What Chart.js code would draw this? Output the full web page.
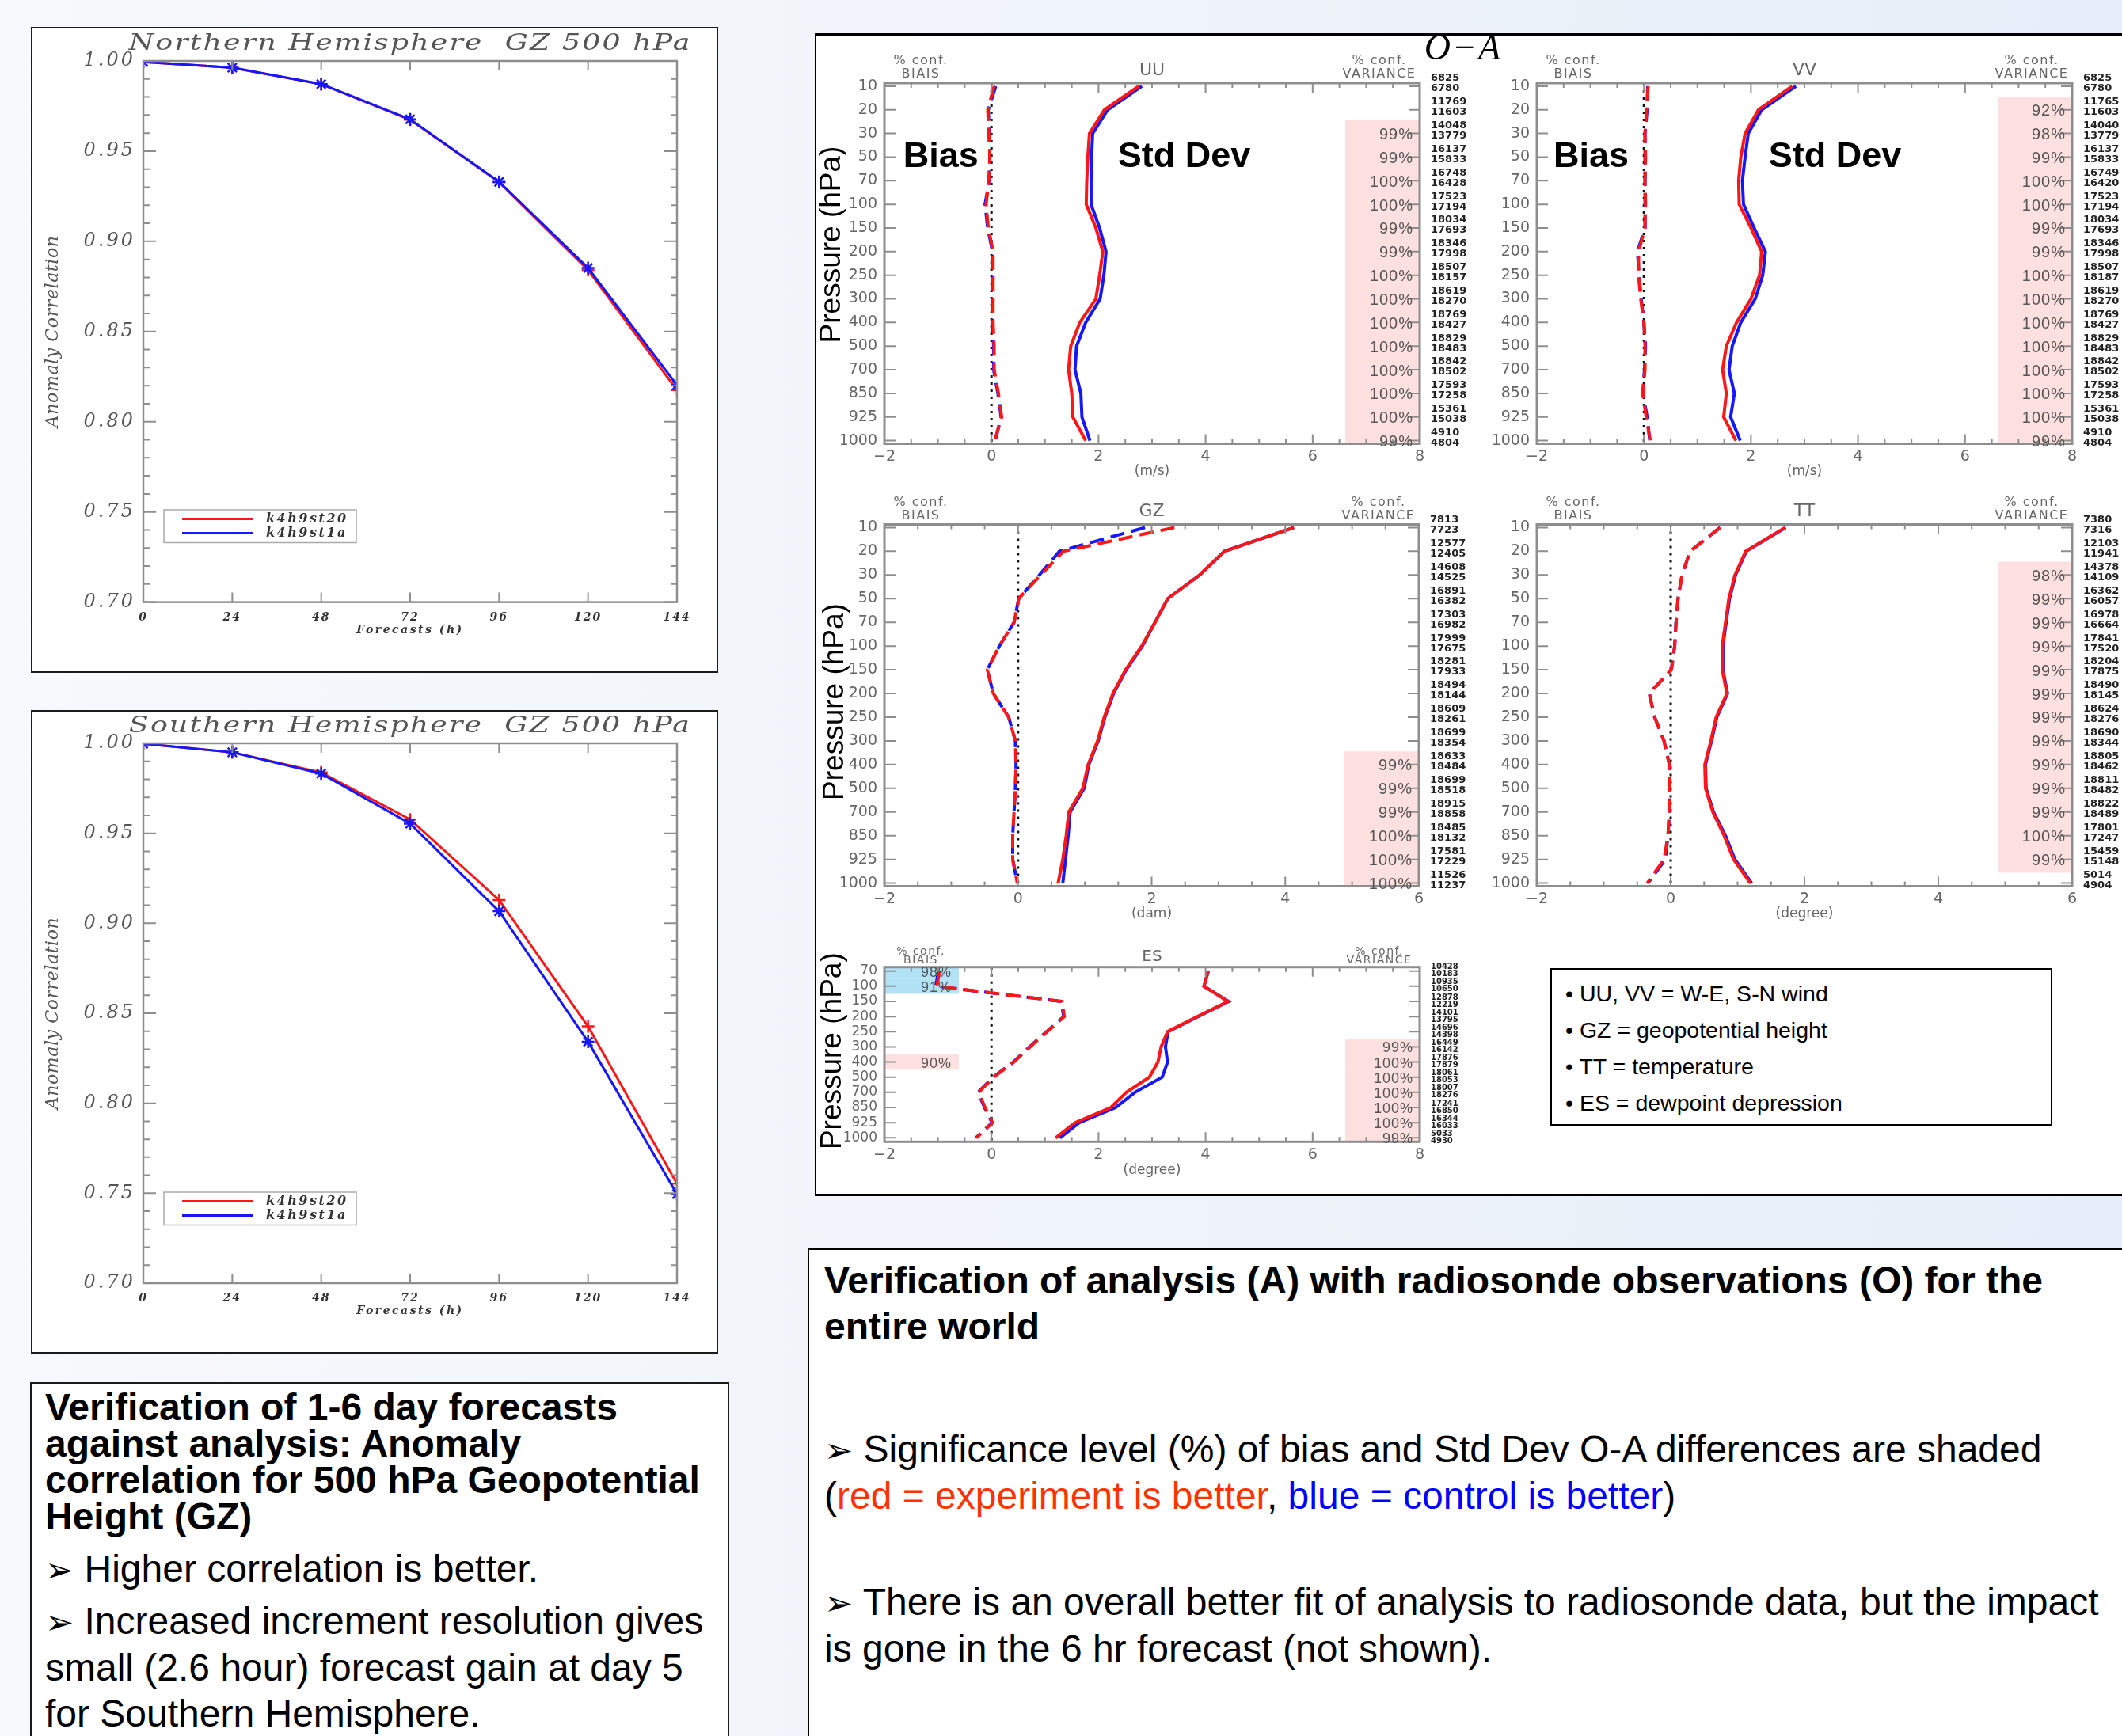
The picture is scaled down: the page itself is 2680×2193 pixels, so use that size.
<!DOCTYPE html>
<html>
<head>
<meta charset="utf-8">
<title>GZ anomaly correlation and O-A verification</title>
<script src="https://cdn.jsdelivr.net/npm/chart.js@4.4.0/dist/chart.umd.min.js"></script>
<style>
  html, body { margin: 0; padding: 0; }
  body { position: relative; width: 2680px; height: 2193px; overflow: hidden;
         background: linear-gradient(90deg, #f7f9fc 0%, #eef3fa 60%, #e7eef9 100%);
         font-family: "Liberation Sans", Arial, sans-serif; color: #000; }
  .box { position: absolute; box-sizing: border-box; background: #fff; }
  canvas { position: absolute; }
  .note { white-space: nowrap; font-size: 48px; }
  .note .hd { font-weight: bold; }
  .arrow { font-family: "DejaVu Sans", sans-serif; font-size: 0.9em; }
</style>
</head>
<body>
<div class="box" style="left:39px;top:34px;width:868px;height:816px;border:2px solid #1b1b1b"></div>
<div class="box" style="left:39px;top:897px;width:868px;height:813px;border:2px solid #1b1b1b"></div>
<div class="box" style="left:1029px;top:42px;width:1700px;height:1469px;border-top:3px solid #000;border-left:2px solid #000;border-bottom:3px solid #000"></div>

<canvas id="nh"></canvas>
<canvas id="sh"></canvas>
<canvas id="uu"></canvas>
<canvas id="vv"></canvas>
<canvas id="gz"></canvas>
<canvas id="tt"></canvas>
<canvas id="es"></canvas>

<div style="position:absolute;left:1748px;top:37px;width:200px;text-align:center;font:italic 46px/46px 'Liberation Serif',serif;letter-spacing:2px">O&minus;A</div>

<div class="box" style="left:1958px;top:1223px;width:634px;height:199px;border:2px solid #000;padding:7px 0 0 17px;font-size:28.5px;line-height:46px;white-space:nowrap">
&bull; UU, VV = W-E, S-N wind<br>&bull; GZ = geopotential height<br>&bull; TT = temperature<br>&bull; ES = dewpoint depression
</div>

<div class="box note" style="left:38px;top:1746px;width:883px;height:520px;border:2px solid #1b1b1b;padding:7px 0 0 17px">
  <div class="hd" style="line-height:46px">Verification of 1-6 day forecasts<br>against analysis: Anomaly<br>correlation for 500 hPa Geopotential<br>Height (GZ)</div>
  <div style="line-height:58px;margin-top:14px"><span class="arrow">&#x27A2;</span> Higher correlation is better.</div>
  <div style="line-height:58px;margin-top:7px"><span class="arrow">&#x27A2;</span> Increased increment resolution gives<br>small (2.6 hour) forecast gain at day 5<br>for Southern Hemisphere.</div>
</div>

<div class="box note" style="left:1020px;top:1576px;width:1700px;height:700px;border-top:3px solid #000;border-left:2px solid #000;padding:10px 0 0 19px">
  <div class="hd" style="line-height:58px">Verification of analysis (A) with radiosonde observations (O) for the<br>entire world</div>
  <div style="line-height:58px;margin-top:97px"><span class="arrow">&#x27A2;</span> Significance level (%) of bias and Std Dev O-A differences are shaded<br>(<span style="color:#ff3300">red = experiment is better</span>, <span style="color:#0000ff">blue = control is better</span>)</div>
  <div style="line-height:58px;margin-top:76px"><span class="arrow">&#x27A2;</span> There is an overall better fit of analysis to radiosonde data, but the impact<br>is gone in the 6 hr forecast (not shown).</div>
</div>

<script>
// ---- anomaly correlation, 500 hPa GZ (k4h9st20 = experiment, k4h9st1a = control)
const hours = [0, 24, 48, 72, 96, 120, 144]
const nhK4h9st20 = [0.9995, 0.9963, 0.9871, 0.9674, 0.9328, 0.8841, 0.8175]
const nhK4h9st1a = [0.9995, 0.9963, 0.9872, 0.9676, 0.9330, 0.8852, 0.8203]
const shK4h9st20 = [0.9998, 0.9950, 0.9838, 0.9577, 0.9129, 0.8427, 0.7553]
const shK4h9st1a = [0.9998, 0.9950, 0.9832, 0.9554, 0.9067, 0.8342, 0.7495]

// ---- O-A profiles against radiosondes
const levels = [10, 20, 30, 50, 70, 100, 150, 200, 250, 300, 400, 500, 700, 850, 925, 1000]
const esLevels = [70, 100, 150, 200, 250, 300, 400, 500, 700, 850, 925, 1000]

const uuStdExp = [2.75, 2.11, 1.83, 1.80, 1.78, 1.77, 1.95, 2.08, 2.02, 1.95, 1.65, 1.48, 1.44, 1.50, 1.52, 1.76]
const uuStdCtl = [2.81, 2.17, 1.89, 1.87, 1.86, 1.86, 2.02, 2.14, 2.10, 2.03, 1.76, 1.59, 1.56, 1.67, 1.69, 1.84]
const uuBiasExp = [0.05, -0.07, -0.05, -0.03, -0.05, -0.10, -0.06, 0.03, 0.03, 0.03, 0.03, 0.05, 0.05, 0.13, 0.19, 0.06]
const uuBiasCtl = [0.08, -0.06, -0.04, -0.03, -0.04, -0.12, -0.07, 0.02, 0.03, 0.02, 0.02, 0.04, 0.04, 0.12, 0.18, 0.07]
const uuVarConf = [null, null, 99, 99, 100, 100, 99, 99, 100, 100, 100, 100, 100, 100, 100, 99]
const uuNobsA = [6825, 11769, 14048, 16137, 16748, 17523, 18034, 18346, 18507, 18619, 18769, 18829, 18842, 17593, 15361, 4910]
const uuNobsB = [6780, 11603, 13779, 15833, 16428, 17194, 17693, 17998, 18157, 18270, 18427, 18483, 18502, 17258, 15038, 4804]

const vvStdExp = [2.77, 2.14, 1.89, 1.81, 1.77, 1.78, 2.00, 2.20, 2.16, 2.00, 1.73, 1.54, 1.47, 1.54, 1.49, 1.72]
const vvStdCtl = [2.84, 2.20, 1.95, 1.89, 1.84, 1.86, 2.06, 2.27, 2.22, 2.08, 1.81, 1.65, 1.59, 1.69, 1.62, 1.80]
const vvBiasExp = [0.08, 0.05, 0.02, 0.03, 0.02, 0.03, 0.02, -0.10, -0.10, -0.06, 0.00, 0.02, 0.02, -0.02, 0.04, 0.12]
const vvBiasCtl = [0.07, 0.06, 0.02, 0.02, 0.02, 0.02, 0.02, -0.12, -0.09, -0.05, 0.00, 0.03, 0.01, -0.02, 0.06, 0.11]
const vvVarConf = [null, 92, 98, 99, 100, 100, 99, 99, 100, 100, 100, 100, 100, 100, 100, 99]
const vvNobsA = [6825, 11765, 14040, 16137, 16749, 17523, 18034, 18346, 18507, 18619, 18769, 18829, 18842, 17593, 15361, 4910]
const vvNobsB = [6780, 11603, 13779, 15833, 16420, 17194, 17693, 17998, 18187, 18270, 18427, 18483, 18502, 17258, 15038, 4804]

const gzStdExp = [4.13, 3.09, 2.72, 2.24, 2.05, 1.85, 1.61, 1.42, 1.29, 1.19, 1.05, 0.97, 0.76, 0.72, 0.67, 0.60]
const gzStdCtl = [4.13, 3.09, 2.72, 2.24, 2.05, 1.86, 1.62, 1.43, 1.30, 1.20, 1.06, 0.99, 0.78, 0.75, 0.71, 0.67]
const gzBiasExp = [2.34, 0.68, 0.34, 0.01, -0.06, -0.28, -0.46, -0.37, -0.14, -0.04, -0.03, -0.04, -0.06, -0.08, -0.08, -0.01]
const gzBiasCtl = [1.90, 0.62, 0.32, 0.01, -0.06, -0.28, -0.46, -0.37, -0.14, -0.04, -0.03, -0.04, -0.06, -0.08, -0.08, -0.01]
const gzVarConf = [null, null, null, null, null, null, null, null, null, null, 99, 99, 99, 100, 100, 100]
const gzNobsA = [7813, 12577, 14608, 16891, 17303, 17999, 18281, 18494, 18609, 18699, 18633, 18699, 18915, 18485, 17581, 11526]
const gzNobsB = [7723, 12405, 14525, 16382, 16982, 17675, 17933, 18144, 18261, 18354, 18484, 18518, 18858, 18132, 17229, 11237]

const ttStdExp = [1.71, 1.12, 0.96, 0.87, 0.82, 0.77, 0.77, 0.84, 0.68, 0.60, 0.51, 0.52, 0.63, 0.80, 0.94, 1.19]
const ttStdCtl = [1.72, 1.13, 0.97, 0.88, 0.83, 0.78, 0.78, 0.85, 0.69, 0.61, 0.52, 0.53, 0.64, 0.82, 0.96, 1.21]
const ttBiasExp = [0.74, 0.29, 0.17, 0.11, 0.08, 0.06, 0.01, -0.32, -0.24, -0.10, -0.02, -0.02, -0.02, -0.04, -0.10, -0.35]
const ttBiasCtl = [0.74, 0.29, 0.17, 0.11, 0.08, 0.06, 0.01, -0.32, -0.24, -0.10, -0.02, -0.02, -0.02, -0.04, -0.08, -0.34]
const ttVarConf = [null, null, 98, 99, 99, 99, 99, 99, 99, 99, 99, 99, 99, 100, 99, null]
const ttNobsA = [7380, 12103, 14378, 16362, 16978, 17841, 18204, 18490, 18624, 18690, 18805, 18811, 18822, 17801, 15459, 5014]
const ttNobsB = [7316, 11941, 14109, 16057, 16664, 17520, 17875, 18145, 18276, 18344, 18462, 18482, 18489, 17247, 15148, 4904]

const esStdExp = [4.05, 3.97, 4.42, 3.85, 3.29, 3.17, 3.11, 2.95, 2.52, 2.23, 1.56, 1.20]
const esStdCtl = [4.05, 3.97, 4.43, 3.86, 3.30, 3.25, 3.29, 3.19, 2.68, 2.32, 1.64, 1.28]
const esBiasExp = [-0.97, -1.02, 1.32, 1.36, 1.04, 0.72, 0.42, 0.04, -0.24, -0.12, 0.02, -0.28]
const esBiasCtl = [-0.99, -1.04, 1.30, 1.35, 1.03, 0.71, 0.41, 0.03, -0.25, -0.13, 0.01, -0.29]
const esVarConf = [null, null, null, null, null, 99, 100, 100, 100, 100, 100, 99]
const esBiasConfExp = [null, null, null, null, null, null, 90, null, null, null, null, null]
const esBiasConfCtl = [98, 91, null, null, null, null, null, null, null, null, null, null]
const esNobsA = [10428, 10935, 12878, 14101, 14696, 16449, 17876, 18061, 18007, 17241, 16344, 5033]
const esNobsB = [10183, 10650, 12219, 13795, 14398, 16142, 17879, 18053, 18276, 16850, 16033, 4930]

// ---- look
const SANS = '"Liberation Sans", Arial, sans-serif'
const IDL = '"DejaVu Sans", sans-serif'
const SERIF = '"DejaVu Serif", serif'
const RED = '#ff1616', BLUE = '#1616ff', FRAME = '#8e8e8e'
const PINK = '#fde0df', SKY = '#b2e2f5'
const SHADE_W = 94

Chart.defaults.font.family = SANS

// canvas placed on the page; plot edges given in page pixels
function place(id, box, plot){
    const canvas = document.getElementById(id)
    canvas.width = box.w
    canvas.height = box.h
    canvas.style.left = box.x + 'px'
    canvas.style.top = box.y + 'px'
    const b = plot.B - box.y
    return { canvas, l: plot.L - box.x, t: plot.T - box.y, r: plot.R - box.x, b, w: box.w, h: box.h, xh: box.h - b }
}

// wide IDL-like lettering on the axis labels
function spaced(map){
    return {
        id: 'spaced',
        afterUpdate(chart){
            Object.keys(map).forEach(id => {
                const s = chart.scales[id]
                const base = Object.getPrototypeOf(s)
                const wrap = (fn, sp) => function(...args){
                    const c = this.ctx, prev = c.letterSpacing
                    c.letterSpacing = sp
                    base[fn].apply(this, args)
                    c.letterSpacing = prev || '0px'
                }
                s.drawLabels = wrap('drawLabels', map[id][0])
                s.drawTitle = wrap('drawTitle', map[id][1])
            })
        }
    }
}

function acDecor(title){
    return {
        id: 'acDecor',
        afterDatasetsDraw(chart){
            const { ctx, chartArea: a, scales: { x, y } } = chart
            ctx.save()
            ctx.strokeStyle = FRAME
            ctx.lineWidth = 2.5
            ctx.strokeRect(a.left, a.top, a.right - a.left, a.bottom - a.top)
            ctx.lineWidth = 2
            ctx.beginPath()
            for (let k = Math.round(y.min * 100); k <= Math.round(y.max * 100); k++){
                const py = y.getPixelForValue(k / 100), len = k % 5 === 0 ? 16 : 8
                ctx.moveTo(a.left, py); ctx.lineTo(a.left + len, py)
                ctx.moveTo(a.right, py); ctx.lineTo(a.right - len, py)
            }
            x.ticks.forEach(tk => {
                const px = x.getPixelForValue(tk.value)
                ctx.moveTo(px, a.top); ctx.lineTo(px, a.top + 12)
                ctx.moveTo(px, a.bottom); ctx.lineTo(px, a.bottom - 12)
            })
            ctx.stroke()

            ctx.fillStyle = '#555'
            ctx.textAlign = 'center'
            ctx.textBaseline = 'middle'
            ctx.font = `italic 28px ${SERIF}`
            ctx.letterSpacing = '1.6px'
            ctx.save()
            ctx.translate((a.left + a.right) / 2, a.top - 21)
            ctx.scale(1.3, 1)
            ctx.fillText(title, 0, 0)
            ctx.restore()

            // legend box, lower left of the plot
            const lx = a.left + 26, ly = a.top + 567
            ctx.strokeStyle = '#aaa'
            ctx.lineWidth = 1.5
            ctx.strokeRect(lx, ly, 243, 41.5)
            ctx.font = `italic bold 16px ${SERIF}`
            ctx.letterSpacing = '2.5px'
            ctx.textAlign = 'left'
            ctx.fillStyle = '#333'
            chart.data.datasets.forEach((ds, i) => {
                const yy = ly + 11.5 + 18 * i
                ctx.strokeStyle = ds.borderColor
                ctx.lineWidth = 3
                ctx.beginPath(); ctx.moveTo(lx + 23, yy); ctx.lineTo(lx + 112, yy); ctx.stroke()
                ctx.fillText(ds.label, lx + 129, yy)
            })
            ctx.restore()
        }
    }
}

function acChart(id, box, plot, title, exp, ctl){
    const g = place(id, box, plot)
    const line = (label, vals, color, style, order) => ({
        label,
        data: hours.map((h, i) => ({ x: h, y: vals[i] })),
        borderColor: color, backgroundColor: color, borderWidth: 3,
        pointStyle: style, pointRadius: 8, pointBorderWidth: 2.5, order
    })
    const serif = (size, weight) => ({ family: SERIF, style: 'italic', weight: weight || 'normal', size, lineHeight: 1 })
    return new Chart(g.canvas, {
        type: 'line',
        data: { datasets: [line('k4h9st20', exp, RED, 'cross', 1), line('k4h9st1a', ctl, BLUE, 'star', 0)] },
        options: {
            responsive: false, animation: false, events: [],
            layout: { padding: { left: 0, top: g.t, right: g.w - g.r, bottom: 0 } },
            plugins: { legend: { display: false }, tooltip: { enabled: false } },
            scales: {
                x: {
                    type: 'linear', min: 0, max: 144,
                    grid: { display: false, drawTicks: false }, border: { display: false },
                    ticks: { stepSize: 24, padding: 12.5, color: '#333', font: serif(14, 'bold') },
                    title: { display: true, text: 'Forecasts (h)', color: '#333', font: serif(14, 'bold'),
                             padding: { top: 0, bottom: g.xh - 35.5 - 7 } },
                    afterFit: s => { s.height = g.xh }
                },
                y: {
                    type: 'linear', min: 0.70, max: 1.00,
                    grid: { display: false, drawTicks: false }, border: { display: false },
                    ticks: { stepSize: 0.05, padding: 10, color: '#555', font: serif(24), callback: v => v.toFixed(2) },
                    title: { display: true, text: 'Anomaly Correlation', color: '#555', font: serif(22),
                             padding: { top: 15, bottom: 0 } },
                    afterFit: s => { s.width = g.l }
                }
            }
        },
        plugins: [spaced({ x: ['2px', '2.5px'], y: ['3px', '0.6px'] }), acDecor(title)]
    })
}

function profileDecor(cfg){
    return {
        id: 'profileDecor',
        beforeDatasetsDraw(chart){
            const { ctx, chartArea: a, scales: { x, y } } = chart
            ctx.save()
            const band = (conf, x0, x1, color) => conf && conf.forEach((c, i) => {
                if (c == null) return
                const p0 = y.getPixelForValue(i - cfg.half), p1 = y.getPixelForValue(i + cfg.half)
                const top = Math.max(Math.min(p0, p1), a.top), bot = Math.min(Math.max(p0, p1), a.bottom)
                ctx.fillStyle = color
                ctx.fillRect(x0, top, x1 - x0, bot - top)
            })
            band(cfg.varConf, a.right - SHADE_W, a.right, PINK)
            band(cfg.biasConfExp, a.left, a.left + SHADE_W, PINK)
            band(cfg.biasConfCtl, a.left, a.left + SHADE_W, SKY)

            const z = x.getPixelForValue(0)
            ctx.strokeStyle = '#111'
            ctx.lineWidth = 3
            ctx.setLineDash([3, 6])
            ctx.beginPath(); ctx.moveTo(z, a.top); ctx.lineTo(z, a.bottom); ctx.stroke()
            ctx.restore()
        },
        afterDatasetsDraw(chart){
            const { ctx, chartArea: a, scales: { x, y } } = chart
            ctx.save()
            ctx.strokeStyle = FRAME
            ctx.lineWidth = 3
            ctx.strokeRect(a.left, a.top, a.right - a.left, a.bottom - a.top)
            ctx.lineWidth = 2
            ctx.beginPath()
            for (let k = Math.round(x.min * 2); k <= Math.round(x.max * 2); k++){
                const px = x.getPixelForValue(k / 2), len = k % 4 === 0 ? 12 : 6
                ctx.moveTo(px, a.top); ctx.lineTo(px, a.top + len)
                ctx.moveTo(px, a.bottom); ctx.lineTo(px, a.bottom - len)
            }
            cfg.levels.forEach((lv, i) => {
                const py = y.getPixelForValue(i)
                ctx.moveTo(a.left, py); ctx.lineTo(a.left + 14, py)
                ctx.moveTo(a.right, py); ctx.lineTo(a.right - 14, py)
            })
            ctx.stroke()

            // significance labels
            ctx.fillStyle = '#555'
            ctx.textBaseline = 'middle'
            ctx.textAlign = 'right'
            ctx.font = `${cfg.pctSize}px ${SANS}`
            ctx.letterSpacing = '1px'
            const pct = (conf, xr) => conf && conf.forEach((c, i) => {
                if (c != null) ctx.fillText(c + '%', xr, y.getPixelForValue(i) + 2)
            })
            pct(cfg.varConf, a.right - 8)
            pct(cfg.biasConfExp, a.left + SHADE_W - 9)
            pct(cfg.biasConfCtl, a.left + SHADE_W - 9)

            // observation counts
            ctx.letterSpacing = '0px'
            ctx.fillStyle = '#222'
            ctx.textAlign = 'left'
            ctx.font = `bold ${cfg.nSize}px ${IDL}`
            cfg.levels.forEach((lv, i) => {
                const py = y.getPixelForValue(i)
                ctx.fillText(cfg.nobsA[i], a.right + 14, py - cfg.nGap[0])
                ctx.fillText(cfg.nobsB[i], a.right + 14, py + cfg.nGap[1])
            })

            // panel headings
            const hd = cfg.head
            ctx.fillStyle = '#666'
            ctx.textAlign = 'center'
            ctx.font = `${hd.big}px ${IDL}`
            ctx.fillText(cfg.title, (a.left + a.right) / 2, a.top + hd.title)
            ctx.font = `${hd.small}px ${IDL}`
            ctx.letterSpacing = '1.5px'
            ctx.fillText('% conf.', a.left + 46, a.top + hd.conf)
            ctx.fillText('BIAIS', a.left + 46, a.top + hd.sub)
            ctx.fillText('% conf.', a.right - 51, a.top + hd.conf)
            ctx.fillText('VARIANCE', a.right - 51, a.top + hd.sub)
            ctx.letterSpacing = '0px'

            ctx.fillStyle = '#000'
            ctx.textAlign = 'left'
            ctx.font = `bold 45px ${SANS}`
            ;(cfg.tags || []).forEach(tg => ctx.fillText(tg.text, x.getPixelForValue(tg.x), y.getPixelForValue(tg.y)))

            if (cfg.yTitle){
                ctx.save()
                ctx.translate(a.left + cfg.yTitle.dx, a.top + cfg.yTitle.dy)
                ctx.rotate(-Math.PI / 2)
                ctx.textAlign = 'center'
                ctx.font = `37px ${SANS}`
                ctx.fillText('Pressure (hPa)', 0, 0)
                ctx.restore()
            }
            ctx.restore()
        }
    }
}

function profileChart(id, box, plot, cfg){
    const g = place(id, box, plot)
    const pts = arr => arr.map((v, i) => ({ x: v, y: i }))
    const ds = (arr, color, dash, order) => ({
        data: pts(arr), borderColor: color, borderWidth: 4, borderDash: dash, pointRadius: 0, order
    })
    const idl = size => ({ family: IDL, size, lineHeight: 1 })
    return new Chart(g.canvas, {
        type: 'line',
        data: {
            datasets: [
                ds(cfg.biasExp, RED, [18, 9], 0),
                ds(cfg.biasCtl, BLUE, [18, 9], 2),
                ds(cfg.stdExp, RED, [], 1),
                ds(cfg.stdCtl, BLUE, [], 3)
            ]
        },
        options: {
            responsive: false, animation: false, events: [],
            layout: { padding: { left: 0, top: g.t, right: g.w - g.r, bottom: 0 } },
            plugins: { legend: { display: false }, tooltip: { enabled: false } },
            scales: {
                x: {
                    type: 'linear', min: -2, max: cfg.xMax,
                    grid: { display: false, drawTicks: false }, border: { display: false },
                    ticks: { stepSize: 2, padding: 7.5, color: '#666', font: idl(19),
                             callback: v => v < 0 ? '\u2212' + (-v) : String(v) },
                    title: { display: true, text: cfg.unit, color: '#666', font: idl(17),
                             padding: { top: 0, bottom: g.xh - cfg.unitAt - 8.5 } },
                    afterFit: s => { s.height = g.xh }
                },
                y: {
                    type: 'linear', reverse: true, min: -cfg.pad, max: cfg.levels.length - 1 + cfg.pad,
                    grid: { display: false, drawTicks: false }, border: { display: false },
                    afterBuildTicks: s => { s.ticks = cfg.levels.map((lv, i) => ({ value: i })) },
                    ticks: { autoSkip: false, padding: 9, color: '#666', font: idl(cfg.ySize),
                             callback: v => String(cfg.levels[v]) },
                    afterFit: s => { s.width = g.l }
                }
            }
        },
        plugins: [profileDecor(cfg)]
    })
}

acChart('nh', { x: 41, y: 36, w: 864, h: 812 }, { L: 181, T: 77, R: 855, B: 760.6 },
    'Northern Hemisphere  GZ 500 hPa', nhK4h9st20, nhK4h9st1a)
acChart('sh', { x: 41, y: 899, w: 864, h: 809 }, { L: 181, T: 939, R: 855, B: 1621 },
    'Southern Hemisphere  GZ 500 hPa', shK4h9st20, shK4h9st1a)

const bigHead = { title: -16, conf: -28, sub: -11, big: 22, small: 16 }
const common = { levels, pad: 0.13, half: 0.56, ySize: 19, pctSize: 20, nSize: 13, nGap: [10, 3], unitAt: 35, head: bigHead }

profileChart('uu', { x: 1031, y: 45, w: 840, h: 600 }, { L: 1117, T: 105, R: 1793, B: 560.5 }, Object.assign({}, common, {
    title: 'UU', unit: '(m/s)', xMax: 8,
    stdExp: uuStdExp, stdCtl: uuStdCtl, biasExp: uuBiasExp, biasCtl: uuBiasCtl,
    varConf: uuVarConf, nobsA: uuNobsA, nobsB: uuNobsB,
    tags: [{ text: 'Bias', x: -1.65, y: 3 }, { text: 'Std Dev', x: 2.36, y: 3 }],
    yTitle: { dx: -66, dy: 204 }
}))
profileChart('vv', { x: 1871, y: 45, w: 809, h: 600 }, { L: 1941, T: 105, R: 2617, B: 560.5 }, Object.assign({}, common, {
    title: 'VV', unit: '(m/s)', xMax: 8,
    stdExp: vvStdExp, stdCtl: vvStdCtl, biasExp: vvBiasExp, biasCtl: vvBiasCtl,
    varConf: vvVarConf, nobsA: vvNobsA, nobsB: vvNobsB,
    tags: [{ text: 'Bias', x: -1.69, y: 3 }, { text: 'Std Dev', x: 2.33, y: 3 }]
}))
profileChart('gz', { x: 1031, y: 602, w: 840, h: 590 }, { L: 1117, T: 662.5, R: 1792, B: 1119.5 }, Object.assign({}, common, {
    title: 'GZ', unit: '(dam)', xMax: 6,
    stdExp: gzStdExp, stdCtl: gzStdCtl, biasExp: gzBiasExp, biasCtl: gzBiasCtl,
    varConf: gzVarConf, nobsA: gzNobsA, nobsB: gzNobsB,
    yTitle: { dx: -62, dy: 224 }
}))
profileChart('tt', { x: 1871, y: 602, w: 809, h: 590 }, { L: 1941, T: 662.5, R: 2617, B: 1119.5 }, Object.assign({}, common, {
    title: 'TT', unit: '(degree)', xMax: 6,
    stdExp: ttStdExp, stdCtl: ttStdCtl, biasExp: ttBiasExp, biasCtl: ttBiasCtl,
    varConf: ttVarConf, nobsA: ttNobsA, nobsB: ttNobsB
}))
profileChart('es', { x: 1031, y: 1160, w: 840, h: 345 }, { L: 1117, T: 1221.7, R: 1793, B: 1442.3 }, Object.assign({}, common, {
    levels: esLevels, pad: 0.26, half: 0.5, ySize: 17, pctSize: 18, nSize: 10, nGap: [5, 4], unitAt: 36,
    head: { title: -13, conf: -19, sub: -8, big: 20, small: 14 },
    title: 'ES', unit: '(degree)', xMax: 8,
    stdExp: esStdExp, stdCtl: esStdCtl, biasExp: esBiasExp, biasCtl: esBiasCtl,
    varConf: esVarConf, biasConfExp: esBiasConfExp, biasConfCtl: esBiasConfCtl,
    nobsA: esNobsA, nobsB: esNobsB,
    yTitle: { dx: -65, dy: 106 }
}))
</script>
</body>
</html>
